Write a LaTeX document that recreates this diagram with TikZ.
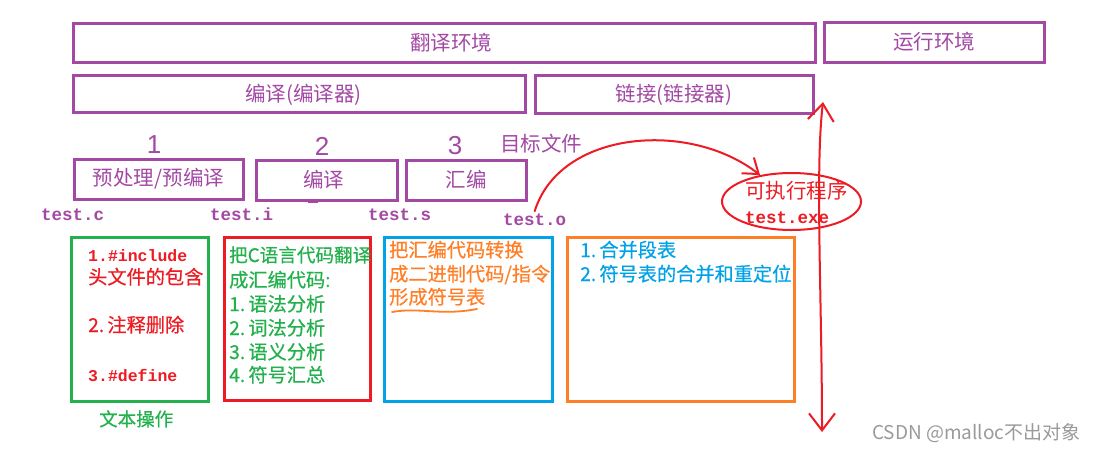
\documentclass[tikz,border=0pt]{standalone}
\usepackage{fontspec}
\setmainfont{Noto Sans CJK SC}
\newfontfamily\cjkheavy{Noto Sans CJK SC}[FakeBold=0.5]
\newfontfamily\monofont{Liberation Mono}
\newfontfamily\digitfont{Liberation Sans}
\usetikzlibrary{shapes.geometric,arrows.meta}
\definecolor{ppurple}{HTML}{A349A4}
\definecolor{pred}{HTML}{ED1C24}
\definecolor{pgreen}{HTML}{22B14C}
\definecolor{pblue}{HTML}{00A2E8}
\definecolor{porange}{HTML}{FF7F27}
\definecolor{wmgray}{HTML}{9A9A9A}
\newcommand\fz[1]{\fontsize{#1}{#1}\selectfont}
\newcommand\nm[1]{\makebox[1em][l]{#1}}
\tikzset{
  pbox/.style={draw=ppurple, line width=3pt, inner sep=0pt, text=ppurple, font=\fz{20.5}},
  plabel/.style={text=ppurple, font=\fz{20.5}, inner sep=0pt},
  lbox/.style={line width=3pt, inner sep=0pt},
  txt/.style={inner sep=0pt, anchor=base west},
  cjk/.style={font=\cjkheavy\fz{19.2}},
  mono/.style={font=\monofont\bfseries\fz{17.5}},
  monosm/.style={font=\monofont\bfseries\fz{16.5}},
  num/.style={inner sep=0pt, text=ppurple, font=\digitfont\fz{26}},
  redpen/.style={draw=pred, line width=2pt, line cap=round, line join=round},
  barb/.tip={Straight Barb[length=14pt,width=20pt]},
  bigbarb/.tip={Straight Barb[length=17pt,width=26pt]}
}
\begin{document}
\begin{tikzpicture}[x=1pt,y=-1pt]
\fill[white] (0,0) rectangle (1097,453);
\useasboundingbox (0,0) rectangle (1097,453);

% top purple boxes
\node[pbox, minimum width=741.5pt, minimum height=39.5pt,
      label={[plabel, xshift=7pt]center:翻译环境}] (fy) at (444.25,42.75) {};
\node[pbox, minimum width=220pt, minimum height=40pt] (yx) at (934,42) {运行环境};
\node[pbox, minimum width=452pt, minimum height=37pt,
      label={[plabel, xshift=4pt, yshift=-1pt]center:编译(编译器)}] (by) at (299.5,93.5) {};
\node[pbox, minimum width=278pt, minimum height=38pt, label={[plabel, yshift=-1pt]center:链接(链接器)}] (lj) at (674,94) {};
\node[pbox, minimum width=169pt, minimum height=40pt] (pre) at (158.5,179) {预处理/预编译};
\node[pbox, minimum width=141pt, minimum height=40pt,
      label={[plabel, xshift=-3pt]center:编译}] (cmp) at (326.5,180) {};
\node[pbox, minimum width=120pt, minimum height=40pt] (asm) at (466,180) {汇编};
\draw[ppurple, line width=2pt] (308,202) -- (318,202);

% step numbers
\node[num] (n1) at (154,145) {1};
\node[num] (n2) at (322,146) {2};
\node[num] (n3) at (455,146) {3};
\node[txt, text=ppurple, font=\fz{20.5}] (obj) at (500,151) {目标文件};

% file names
\node[txt, mono, text=ppurple] (tc) at (41,220) {test.c};
\node[txt, mono, text=ppurple] (ti) at (210,220) {test.i};
\node[txt, mono, text=ppurple] (ts) at (368,220) {test.s};
\node[txt, mono, text=ppurple, inner sep=2pt] (to) at (501,225) {test.o};

% executable
\node[draw=pred, line width=2pt, ellipse, minimum width=139pt, minimum height=57pt, inner sep=0pt] (exe) at (791.5,201.5) {};
\node[txt, text=pred, font=\fz{20.5}] (exeT) at (745,198) {可执行程序};
\node[txt, mono, text=pred] (exeF) at (745,223) {test.exe};

% lower boxes
\node[lbox, draw=pgreen, minimum width=137pt, minimum height=164pt] (gb) at (139.5,319) {};
\node[lbox, draw=pred, minimum width=146pt, minimum height=163pt] (rb) at (297,318.5) {};
\node[lbox, draw=pblue, minimum width=168pt, minimum height=164pt] (bb) at (468,319) {};
\node[lbox, draw=porange, minimum width=227pt, minimum height=164pt] (ob) at (680.5,319) {};

% green box (red text)
\node[txt, monosm, text=pred] (g1) at (88,261) {1.\#include};
\node[txt, cjk, text=pred] (g2) at (88,284) {头文件的包含};
\node[txt, cjk, text=pred] (g3) at (88,332) {\nm{2.}注释删除};
\node[txt, monosm, text=pred] (g4) at (88,381) {3.\#define};
\node[txt, text=pgreen, font=\cjkheavy\fz{18.5}] (gl) at (99,426) {文本操作};

% red box (green text)
\node[txt, text=pgreen, font=\cjkheavy\fz{18.6}] (r1) at (229,262) {把C语言代码翻译};
\node[txt, cjk, text=pgreen] (r2) at (229,287) {成汇编代码:};
\node[txt, cjk, text=pgreen] (r3) at (229,311) {\nm{1.}语法分析};
\node[txt, cjk, text=pgreen] (r4) at (229,335) {\nm{2.}词法分析};
\node[txt, cjk, text=pgreen] (r5) at (229,359) {\nm{3.}语义分析};
\node[txt, cjk, text=pgreen] (r6) at (229,382) {\nm{4.}符号汇总};

% blue box (orange text)
\node[txt, cjk, text=porange] (b1) at (389,257) {把汇编代码转换};
\node[txt, cjk, text=porange] (b2) at (389,281) {成二进制代码/指令};
\node[txt, cjk, text=porange] (b3) at (389,304) {形成符号表};
\draw[porange, line width=1.8pt, line cap=round] (392,312) .. controls (420,307) and (440,316) .. (477,309);

% orange box (blue text)
\node[txt, cjk, text=pblue] (o1) at (580,257) {\nm{1.}合并段表};
\node[txt, cjk, text=pblue] (o2) at (580,281) {\nm{2.}符号表的合并和重定位};

% red arrows
\draw[redpen, -barb] (to.north) .. controls (560,130) and (690,120) .. (exe.140);
\coordinate (vt) at (823,102);
\coordinate (vb) at (822,432);
\draw[redpen, bigbarb-bigbarb] (vt) .. controls (815,170) and (822,300) .. (vb);

% watermark
\node[inner sep=0pt, anchor=west, text=wmgray, font=\fz{19}] (wm) at (872,433) {CSDN @malloc不出对象};
\end{tikzpicture}
\end{document}
